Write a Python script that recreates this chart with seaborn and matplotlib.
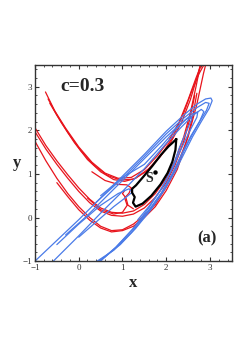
import pandas as pd
import seaborn as sns
import matplotlib.pyplot as plt
from matplotlib.ticker import MultipleLocator

# red branches (unstable manifold)
red_a_x = [-0.76, -0.55, -0.3, 0.0, 0.3, 0.6, 0.9, 1.2, 1.5, 1.8, 2.05, 2.3, 2.5, 2.68, 2.8]
red_a_y = [2.88, 2.45, 2.05, 1.62, 1.27, 1.02, 0.9, 0.92, 1.1, 1.42, 1.75, 2.2, 2.7, 3.2, 3.5]
red_h_x = [-0.7, -0.5, -0.25, 0.05, 0.35, 0.65, 0.95, 1.25, 1.55, 1.85, 2.1, 2.35, 2.55, 2.7, 2.78]
red_h_y = [2.72, 2.35, 1.95, 1.53, 1.2, 0.97, 0.86, 0.88, 1.06, 1.38, 1.72, 2.18, 2.7, 3.2, 3.5]
red_b_x = [-0.66, -0.4, -0.1, 0.2, 0.5, 0.8, 1.05, 1.3, 1.6, 1.9, 2.15, 2.4, 2.6, 2.75, 2.86]
red_b_y = [2.62, 2.18, 1.72, 1.33, 1.05, 0.87, 0.83, 0.9, 1.12, 1.45, 1.85, 2.4, 2.95, 3.3, 3.5]
red_c_x = [-1.0, -0.75, -0.5, -0.25, 0.0, 0.25, 0.5, 0.75, 1.0, 1.25, 1.5, 1.75, 2.0, 2.2, 2.4, 2.55, 2.68, 2.78]
red_c_y = [2.06, 1.65, 1.3, 0.98, 0.68, 0.42, 0.22, 0.12, 0.1, 0.15, 0.3, 0.55, 0.9, 1.3, 1.85, 2.4, 3.0, 3.5]
red_d_x = [-1.0, -0.75, -0.5, -0.25, 0.0, 0.25, 0.5, 0.75, 1.0, 1.25, 1.5, 1.75, 2.0, 2.2, 2.4, 2.55, 2.65]
red_d_y = [1.97, 1.57, 1.22, 0.9, 0.6, 0.34, 0.15, 0.05, 0.03, 0.08, 0.22, 0.46, 0.8, 1.2, 1.75, 2.3, 2.8]
red_e_x = [-1.0, -0.75, -0.5, -0.25, 0.0, 0.25, 0.5, 0.75, 1.0, 1.25, 1.5, 1.75, 2.0, 2.25, 2.5, 2.7, 2.85, 2.9]
red_e_y = [1.75, 1.3, 0.9, 0.55, 0.25, 0.0, -0.2, -0.3, -0.28, -0.15, 0.05, 0.3, 0.7, 1.2, 1.85, 2.6, 3.3, 3.5]
red_f_x = [-0.5, -0.25, 0.0, 0.25, 0.5, 0.75, 1.0, 1.25, 1.5, 1.75, 2.0, 2.25, 2.45, 2.6, 2.7]
red_f_y = [0.8, 0.48, 0.18, -0.06, -0.24, -0.33, -0.3, -0.2, 0.0, 0.25, 0.62, 1.1, 1.7, 2.3, 2.85]
red_g_x = [0.3, 0.6, 0.9, 1.1, 1.2, 1.15, 1.05, 1.1, 1.25]
red_g_y = [1.05, 0.85, 0.76, 0.75, 0.68, 0.56, 0.45, 0.3, 0.2]
red_i_x = [0.2, 0.5, 0.8, 1.0, 1.12, 1.08, 1.0, 1.05]
red_i_y = [0.45, 0.18, 0.08, 0.12, 0.3, 0.45, 0.55, 0.62]

# blue branches (stable manifold): loops with tips near x=2.6..3.05
blue_a_x = [-1.0, 0.0, 1.0, 1.5, 2.0, 2.4, 2.7, 2.9, 3.02, 3.05, 2.98, 2.8, 2.6, 2.4, 2.2, 1.95, 1.65, 1.3, 0.95, 0.6, 0.45]
blue_a_y = [-1.0, -0.05, 0.95, 1.45, 1.98, 2.35, 2.6, 2.72, 2.74, 2.68, 2.5, 2.2, 1.85, 1.45, 1.05, 0.62, 0.18, -0.25, -0.62, -0.9, -1.0]
blue_e_x = [0.4, 1.0, 1.5, 2.0, 2.4, 2.7, 2.9, 2.98, 2.92, 2.75, 2.55, 2.35, 2.14, 1.9, 1.58, 1.22, 0.85, 0.48]
blue_e_y = [0.35, 0.9, 1.4, 1.92, 2.28, 2.52, 2.64, 2.62, 2.46, 2.18, 1.82, 1.42, 1.0, 0.58, 0.14, -0.28, -0.68, -1.0]
blue_b_x = [-0.58, 0.0, 0.5, 1.0, 1.5, 2.0, 2.35, 2.62, 2.8, 2.86, 2.76, 2.55, 2.35, 2.15, 1.88, 1.57, 1.2, 0.8, 0.42]
blue_b_y = [-1.0, -0.42, 0.1, 0.6, 1.12, 1.7, 2.08, 2.35, 2.48, 2.43, 2.2, 1.85, 1.45, 1.02, 0.55, 0.1, -0.35, -0.75, -1.0]
blue_c_x = [-0.3, 0.2, 0.6, 1.0, 1.5, 2.0, 2.35, 2.6, 2.72, 2.7, 2.52, 2.33, 2.14, 1.9, 1.6, 1.25, 0.85, 0.5]
blue_c_y = [-0.4, 0.05, 0.45, 0.85, 1.35, 1.85, 2.17, 2.38, 2.42, 2.3, 1.95, 1.55, 1.12, 0.68, 0.22, -0.25, -0.68, -1.0]
blue_d_x = [-0.5, 0.0, 0.5, 0.9, 1.15, 1.22, 1.1, 0.8, 0.4, 0.0]
blue_d_y = [-0.62, -0.15, 0.28, 0.55, 0.66, 0.58, 0.48, 0.25, -0.1, -0.45]
blue_f_x = [0.5, 1.0, 1.5, 1.9, 2.2, 2.45, 2.58, 2.58, 2.45, 2.3, 2.2, 2.05, 1.85, 1.6, 1.35]
blue_f_y = [0.5, 0.92, 1.22, 1.65, 2.0, 2.25, 2.32, 2.25, 1.95, 1.6, 1.3, 0.95, 0.6, 0.25, -0.05]

# black closed curve around S
black_x = [2.23, 2.21, 2.14, 2.03, 1.87, 1.66, 1.46, 1.3, 1.24, 1.28, 1.22, 1.22, 1.31, 1.48, 1.68, 1.88, 2.05, 2.16, 2.23]
black_y = [1.8, 1.55, 1.28, 1.02, 0.76, 0.5, 0.32, 0.25, 0.34, 0.47, 0.57, 0.66, 0.74, 0.94, 1.18, 1.44, 1.63, 1.73, 1.8]

s_point = (1.75, 1.05)


def to_frame(curves):
    rows = []
    for name, (xs, ys) in curves.items():
        for i, (x, y) in enumerate(zip(xs, ys)):
            rows.append({'curve': name, 'order': i, 'x': x, 'y': y})
    return pd.DataFrame(rows)


red_df = to_frame({'a': (red_a_x, red_a_y), 'h': (red_h_x, red_h_y), 'b': (red_b_x, red_b_y),
                   'c': (red_c_x, red_c_y), 'd': (red_d_x, red_d_y), 'e': (red_e_x, red_e_y),
                   'f': (red_f_x, red_f_y), 'g': (red_g_x, red_g_y), 'i': (red_i_x, red_i_y)})
blue_df = to_frame({'a': (blue_a_x, blue_a_y), 'e': (blue_e_x, blue_e_y), 'b': (blue_b_x, blue_b_y),
                    'c': (blue_c_x, blue_c_y), 'd': (blue_d_x, blue_d_y), 'f': (blue_f_x, blue_f_y)})
black_df = to_frame({'k': (black_x, black_y)})

sns.set_style("ticks")
plt.rcParams['font.family'] = ['Liberation Serif', 'DejaVu Serif']

fig = plt.figure(figsize=(2.48, 3.51), dpi=100)
ax = fig.add_axes([0.141, 0.256, 0.794, 0.559])

sns.lineplot(data=red_df, x='x', y='y', units='curve', estimator=None, sort=False,
             color='#e8141c', lw=0.9, ax=ax)
sns.lineplot(data=blue_df, x='x', y='y', units='curve', estimator=None, sort=False,
             color='#4a7be8', lw=0.9, ax=ax)
sns.lineplot(data=black_df, x='x', y='y', units='curve', estimator=None, sort=False,
             color='black', lw=1.6, ax=ax)
ax.plot(*s_point, 'o', color='black', ms=2.2)
ax.text(1.6, 0.9, 'S', fontsize=10, fontweight='bold', ha='center', va='center')

ax.text(-0.42, 3.0, 'c=0.3', fontsize=14, fontweight='bold', va='center')
ax.text(2.92, -0.48, '(a)', fontsize=12, fontweight='bold', ha='center', va='center')

ax.set_xlim(-1, 3.5)
ax.set_ylim(-1, 3.5)
ax.xaxis.set_major_locator(MultipleLocator(1))
ax.yaxis.set_major_locator(MultipleLocator(1))
ax.xaxis.set_minor_locator(MultipleLocator(0.2))
ax.yaxis.set_minor_locator(MultipleLocator(0.2))
ax.tick_params(which='both', direction='in', top=True, right=True, labelsize=6.5,
               color='#333333', labelcolor='#333333', pad=2)
ax.tick_params(which='major', length=3)
ax.tick_params(which='minor', length=1.5)
for s in ax.spines.values():
    s.set_color('#333333')
    s.set_linewidth(1.0)
ax.set_xlabel('x', fontsize=12, fontweight='bold', labelpad=2)
ax.set_ylabel('y', fontsize=12, fontweight='bold', rotation=0, labelpad=4, va='center')

fig.savefig('out.png', dpi=100)
